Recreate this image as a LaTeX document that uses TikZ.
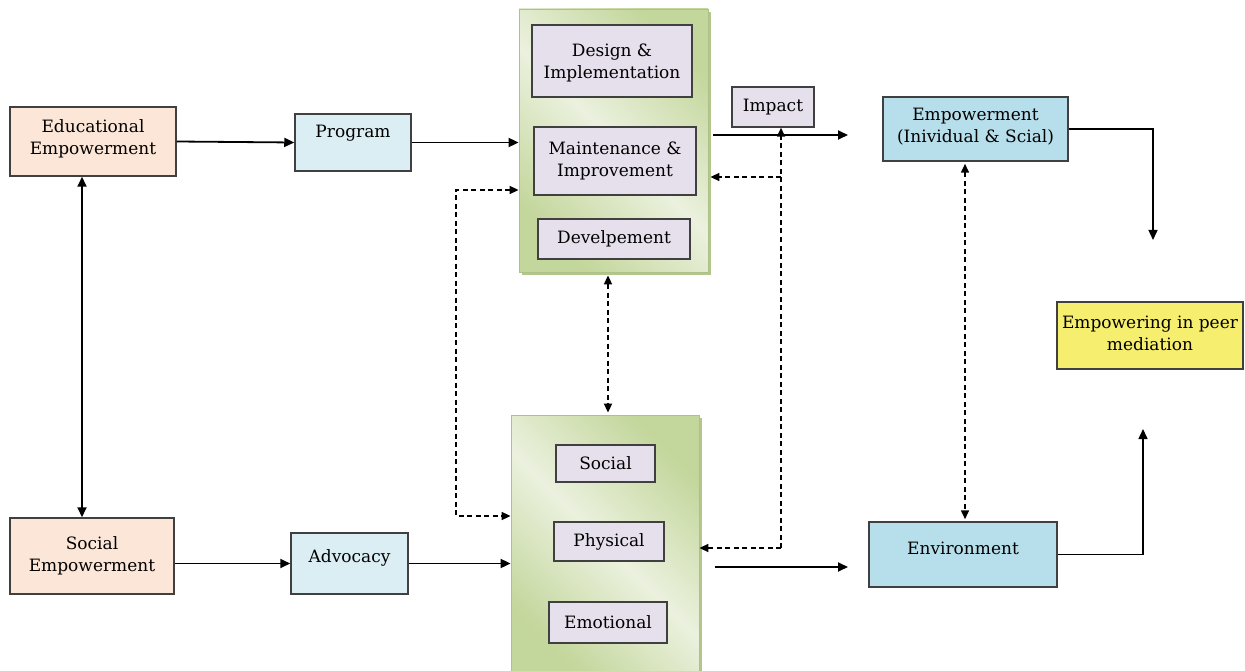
\documentclass[tikz,border=0pt]{standalone}
\usepackage{fontspec}
\setmainfont{DejaVu Serif}
\usetikzlibrary{arrows.meta,shadows}
\definecolor{peach}{HTML}{FCE6D7}
\definecolor{paleblue}{HTML}{DAEEF3}
\definecolor{midblue}{HTML}{B7DFEB}
\definecolor{lav}{HTML}{E5E0EC}
\definecolor{yel}{HTML}{F6EE6F}
\definecolor{gdark}{HTML}{C3D69B}
\definecolor{glight}{HTML}{EBF1DE}
\definecolor{gshadow}{HTML}{B3C78C}
\definecolor{edge}{HTML}{404040}
\tikzset{
  every node/.style={font=\fontsize{17}{22}\selectfont, text=black},
  box/.style={draw=edge, line width=1.5pt, align=center, inner sep=0pt},
  greenbox/.style={draw=gdark!90!black, line width=0.8pt, shading=axis, top color=gdark, bottom color=gdark, middle color=glight, shading angle=-45, inner sep=0pt},
  sol/.style={line width=1.8pt, -{Triangle[length=10pt,width=9pt]}},
  solboth/.style={line width=1.8pt, {Triangle[length=10pt,width=9pt]}-{Triangle[length=10pt,width=9pt]}},
  dsh/.style={line width=1.6pt, dash pattern=on 5pt off 3.5pt, -{Triangle[length=9pt,width=8pt]}},
  dshboth/.style={line width=1.6pt, dash pattern=on 5pt off 3.5pt, {Triangle[length=9pt,width=8pt]}-{Triangle[length=9pt,width=8pt]}},
}
\newcommand{\up}[2]{\raisebox{#1}[\height][\depth]{#2}}
\begin{document}
\begin{tikzpicture}[x=1pt,y=-1pt]
\useasboundingbox (0,0) rectangle (1245,671);
% left column
\node[box, fill=peach, minimum width=166pt, minimum height=69pt] (edu) at (93,141.5) {\up{3pt}{Educational}\\\up{3pt}{Empowerment}};
\node[box, fill=peach, minimum width=164pt, minimum height=76pt] (soc) at (92,556) {Social\\Empowerment};
\node[box, fill=paleblue, minimum width=116pt, minimum height=57pt] (prog) at (353,142.5) {\up{9pt}{Program}};
\node[box, fill=paleblue, minimum width=117pt, minimum height=61pt] (adv) at (349.5,563.5) {\up{6pt}{Advocacy}};
% green boxes
\node[greenbox, drop shadow={shadow xshift=3pt, shadow yshift=-3pt, fill=gshadow, opacity=1}, minimum width=189pt, minimum height=263pt] (g1) at (613.5,140.5) {};
\node[greenbox, drop shadow={shadow xshift=3pt, shadow yshift=-3pt, fill=gshadow, opacity=1}, minimum width=188pt, minimum height=259pt] (g2) at (605,544.5) {};
\node[box, fill=lav, minimum width=160pt, minimum height=72pt] (des) at (612,61) {\up{-2pt}{Design \&}\\\up{-2pt}{Implementation}};
\node[box, fill=lav, minimum width=162pt, minimum height=68pt] (mai) at (615,161) {Maintenance \&\\Improvement};
\node[box, fill=lav, minimum width=152pt, minimum height=40pt] (dev) at (614,239) {Develpement};
\node[box, fill=lav, minimum width=82pt, minimum height=40pt] (imp) at (773,107) {Impact};
\node[box, fill=lav, minimum width=99pt, minimum height=37pt] (socl) at (605.5,463.5) {Social};
\node[box, fill=lav, minimum width=110pt, minimum height=39pt] (phy) at (609,541.5) {Physical};
\node[box, fill=lav, minimum width=118pt, minimum height=41pt] (emo) at (608,622.5) {Emotional};
% right column
\node[box, fill=midblue, minimum width=185pt, minimum height=64pt] (emp) at (975.5,129) {\up{2pt}{Empowerment}\\\up{2pt}{(Inividual \& Scial)}};
\node[box, fill=midblue, minimum width=188pt, minimum height=65pt] (env) at (963,554.5) {\up{6pt}{Environment}};
\node[box, fill=yel, minimum width=186pt, minimum height=67pt] (peer) at (1150,335.5) {\up{2pt}{Empowering in peer}\\\up{2pt}{mediation}};
% coordinates
\coordinate (la) at (456,190);
\coordinate (lb) at (456,516);
\coordinate (ra) at (781,177);
\coordinate (rb) at (781,548);
\coordinate (o1) at (848,135);
\coordinate (o2) at (848,567);
\coordinate (c1) at (1153,240);
\coordinate (c2) at (1143,429);
% connectors
\draw[sol] (edu.east) -- (prog.west);
\draw[sol] (prog.east) -- (prog.east -| g1.west);
\draw[solboth] ([xshift=-11pt]edu.south) -- ([xshift=-10pt]soc.north);
\draw[sol] (adv.west -| soc.east) -- (adv.west);
\draw[sol] (adv.east) -- (adv.east -| g2.west);
\draw[dshboth, shorten <=3pt, shorten >=2pt] ([xshift=-5.5pt]g1.south) -- ([xshift=3pt]g2.north);
\draw[dshboth] (la -| g1.west) -- (la) -- (lb) -- (lb -| g2.west);
\draw[dsh] (rb) -- ([xshift=8pt]imp.south);
\draw[dsh] (ra) -- ([xshift=2pt]ra -| g1.east);
\draw[dsh] (rb) -- (rb -| g2.east);
\draw[sol] ([xshift=5pt]g1.east |- o1) -- (o1);
\draw[sol] ([xshift=16pt]g2.east |- o2) -- (o2);
\draw[dshboth, shorten <=2pt, shorten >=2pt] ([xshift=-10.5pt]emp.south) -- ([xshift=2pt]env.north);
\draw[sol, line width=1.5pt] (emp.east) -| (c1);
\draw[sol, line width=1.5pt] (env.east) -| (c2);
\end{tikzpicture}
\end{document}
